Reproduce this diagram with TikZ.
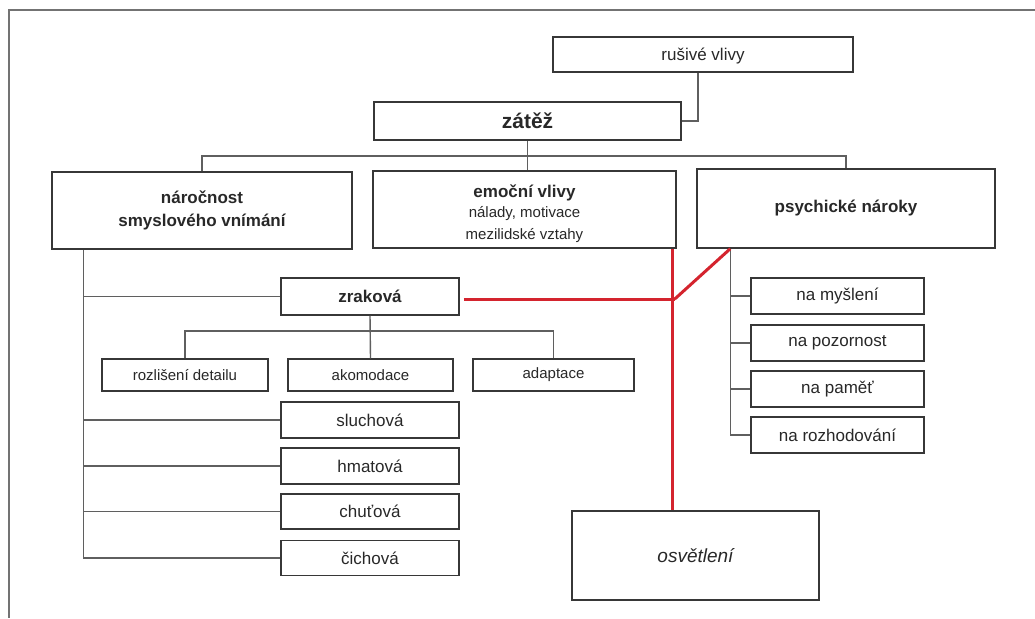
\documentclass[tikz,border=0pt]{standalone}
\usepackage{fontspec}
\setmainfont{Liberation Sans}
\newcommand\fsmall{\fontsize{15}{21}\selectfont}
\newcommand\fnorm{\fontsize{17}{23}\selectfont}
\newcommand\fbig{\fontsize{21}{25}\selectfont}
\definecolor{redln}{RGB}{212,36,46}
\definecolor{boxln}{RGB}{55,55,55}
\definecolor{conln}{RGB}{95,95,95}
\definecolor{txt}{RGB}{40,40,40}
\begin{document}
\begin{tikzpicture}[x=1pt,y=-1pt,
  box/.style={draw=boxln,text=txt,line width=1.5pt,inner sep=0pt,align=center,font=\fnorm},
  smallbox/.style={box,font=\fsmall},
  boldbox/.style={box,font=\fnorm\bfseries},
  conn/.style={draw=conln,line width=1.4pt},
  redline/.style={draw=redln,line width=3pt}]
\useasboundingbox (0,0) rectangle (1035,618);
\fill[white] (0,0) rectangle (1035,618);
% frame
\draw[draw=black!55,line width=1.5pt] (1035,10) -- (9,10) -- (9,618);
% nodes
\node[box,minimum width=300,minimum height=35] (rusive) at (703,54.5) {\rule{0pt}{16pt}rušivé vlivy};
\node[box,font=\fbig\bfseries,minimum width=307,minimum height=38] (zatez) at (527.5,121) {zátěž};
\node[boldbox,minimum width=300,minimum height=77] (narocnost) at (202,210.5) {náročnost\\smyslového vnímání};
\node[boldbox,minimum width=303,minimum height=77] (emocni) at (524.5,209.5) {\rule{0pt}{22pt}emoční vlivy\\[-3pt]{\fsmall\mdseries nálady, motivace}\\[-1pt]{\fsmall\mdseries mezilidské vztahy}};
\node[boldbox,minimum width=298,minimum height=79] (psychicke) at (846,208.5) {psychické nároky};
\node[boldbox,minimum width=178,minimum height=37] (zrakova) at (370,296.5) {zraková};
\node[smallbox,minimum width=166,minimum height=32] (rozliseni) at (185,375) {rozlišení detailu};
\node[smallbox,minimum width=165,minimum height=32] (akomodace) at (370.5,375) {akomodace};
\node[smallbox,minimum width=161,minimum height=32] (adaptace) at (553.5,375) {adaptace};
\node[box,minimum width=178,minimum height=36] (sluchova) at (370,420) {sluchová};
\node[box,minimum width=178,minimum height=36] (hmatova) at (370,466) {hmatová};
\node[box,minimum width=178,minimum height=35] (chutova) at (370,511.5) {chuťová};
\node[box,minimum width=178,minimum height=35] (cichova) at (370,558) {čichová};
\node[box,minimum width=173,minimum height=36] (mysleni) at (837.5,296) {na myšlení};
\node[box,minimum width=173,minimum height=36] (pozornost) at (837.5,343) {na pozornost};
\node[box,minimum width=173,minimum height=36] (pamet) at (837.5,389) {na paměť};
\node[box,minimum width=173,minimum height=36] (rozhodovani) at (837.5,435) {na rozhodování};
\node[box,font=\fontsize{19}{23}\selectfont\itshape,minimum width=247,minimum height=89] (osvetleni) at (695.5,555.5) {osvětlení};
% coordinates
\coordinate (busY) at (0,156);
\coordinate (zbusY) at (0,331);
\coordinate (ltrunk) at ([xshift=32pt]narocnost.south west);
\coordinate (rtrunk) at ([xshift=34pt]psychicke.south west);
\coordinate (rtop) at ([xshift=-4pt]emocni.south east);
\coordinate (zred) at ([xshift=4pt,yshift=-2.5pt]zrakova.east);
% grey connectors
\draw[conn] ([xshift=-5pt]rusive.south) |- (zatez.east);
\draw[conn] (zatez.south) -- (zatez.south |- emocni.north);
\draw[conn] (narocnost.north) |- (busY -| psychicke.north) -- (psychicke.north);
\draw[conn] (ltrunk) |- (cichova.west);
\draw[conn] (zrakova.west) -- (zrakova.west -| ltrunk);
\draw[conn] (sluchova.west) -- (sluchova.west -| ltrunk);
\draw[conn] (hmatova.west) -- (hmatova.west -| ltrunk);
\draw[conn] (chutova.west) -- (chutova.west -| ltrunk);
\draw[conn] (zrakova.south) -- (akomodace.north);
\draw[conn] (rozliseni.north) |- (zbusY -| adaptace.north) -- (adaptace.north);
\draw[conn] (rtrunk) |- (rozhodovani.west);
\draw[conn] (mysleni.west) -- (mysleni.west -| rtrunk);
\draw[conn] (pozornost.west) -- (pozornost.west -| rtrunk);
\draw[conn] (pamet.west) -- (pamet.west -| rtrunk);
% red connectors
\draw[redline] (rtop) -- (rtop |- osvetleni.north);
\coordinate (junc) at ([xshift=2pt]zred -| rtop);
\draw[redline] (zred) -- (junc);
\draw[redline] (junc) -- (rtrunk);
\end{tikzpicture}
\end{document}
